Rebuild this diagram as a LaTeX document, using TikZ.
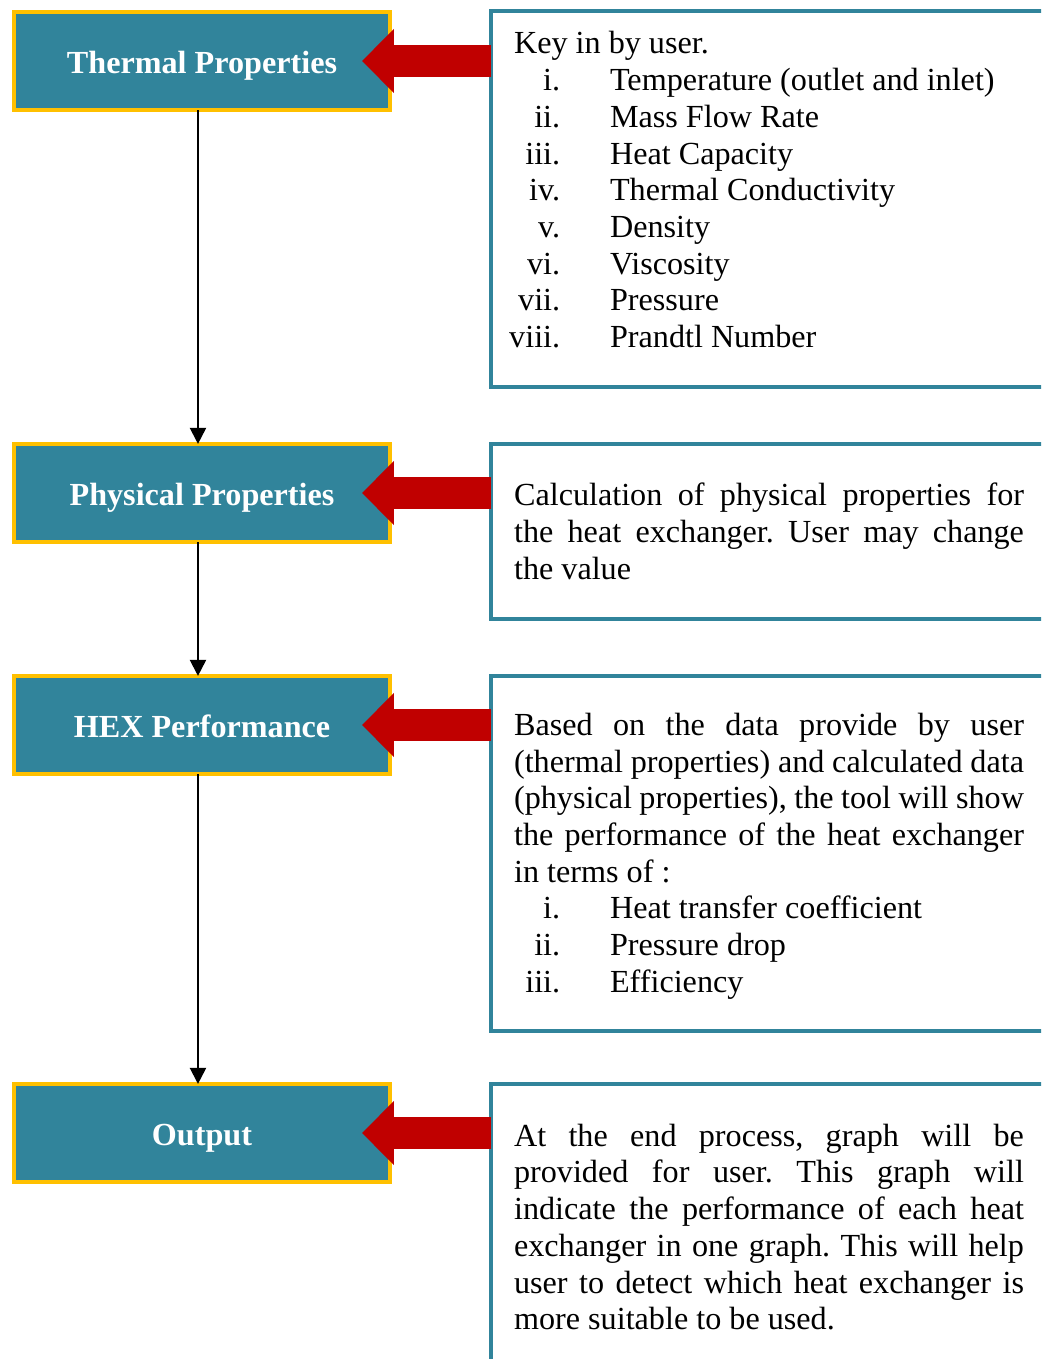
\documentclass[tikz,border=0pt]{standalone}
\usepackage{fontspec}
\setmainfont{Liberation Serif}
\usetikzlibrary{arrows,arrows.meta,positioning}
\definecolor{hexteal}{HTML}{31849B}
\definecolor{hexgold}{HTML}{FFC000}
\definecolor{hexred}{HTML}{C00000}
\tikzstyle{stage} = [rectangle, draw=hexgold, line width=1.5pt, fill=hexteal, minimum width=140.2pt, minimum height=36.6pt, text height=10.2pt, text depth=1pt, text=white, font=\fontsize{12}{13.7}\selectfont\bfseries, outer sep=0pt]
\tikzstyle{infobox} = [rectangle, draw=hexteal, line width=1.5pt, anchor=north west, text width=190.2pt, inner xsep=8.6pt, inner ysep=0pt, align=justify, outer sep=0pt]
\tikzstyle{flowarrow} = [line width=0.75pt, -{Triangle[length=6pt,width=6pt]}]
\tikzstyle{inarrow} = [draw=hexred, line width=11.9pt, -{Triangle[length=11.9pt,width=23.9pt,line width=0pt]}]
\newcommand{\itm}[2]{\makebox[17.2pt][r]{#1}\hspace{18.6pt}#2\par}
\newcommand{\padbelow}[1]{\par\nointerlineskip\vspace{#1}\hbox{}}
\setlength{\parindent}{0pt}
\frenchspacing

\begin{document}
\begin{tikzpicture}[x=0.373pt, y=-0.373pt, font=\fontsize{12}{13.7}\selectfont]
\useasboundingbox (0,0) rectangle (1041,1359);
\clip (0,0) rectangle (1041,1359);
\draw (202,61) node (th) [stage] {Thermal Properties};
\draw (202,493) node (ph) [stage] {Physical Properties};
\draw (202,725) node (hx) [stage] {HEX Performance};
\draw (202,1133) node (ou) [stage] {Output};
%
\draw (491,11) node (in1) [infobox, minimum height=140.1pt] {Key in by user.\par
\itm{i.}{Temperature (outlet and inlet)}
\itm{ii.}{Mass Flow Rate}
\itm{iii.}{Heat Capacity}
\itm{iv.}{Thermal Conductivity}
\itm{v.}{Density}
\itm{vi.}{Viscosity}
\itm{vii.}{Pressure}
\itm{viii.}{Prandtl Number}
\padbelow{6.7pt}};
\draw (491,444) node (in2) [infobox, minimum height=65.3pt] {Calculation of physical properties for\linebreak the heat exchanger. User may change\linebreak the value};
\draw (491,676) node (in3) [infobox, minimum height=132.4pt] {Based on the data provide by user\linebreak (thermal properties) and calculated data\linebreak (physical properties), the tool will show\linebreak the performance of the heat exchanger\linebreak in terms of :\par
\itm{i.}{Heat transfer coefficient}
\itm{ii.}{Pressure drop}
\itm{iii.}{Efficiency}
\padbelow{-2pt}};
\draw (491,1084) node (in4) [infobox, minimum height=106.7pt] {At the end process, graph will be\linebreak provided for user. This graph will\linebreak indicate the performance of each heat\linebreak exchanger in one graph. This will help\linebreak user to detect which heat exchanger is\linebreak more suitable to be used.};
%
\draw [flowarrow] ([xshift=-1.5pt]th.south) -- ([xshift=-1.5pt]ph.north);
\draw [flowarrow] ([xshift=-1.5pt]ph.south) -- ([xshift=-1.5pt]hx.north);
\draw [flowarrow] ([xshift=-1.5pt]hx.south) -- ([xshift=-1.5pt]ou.north);
%
\draw [inarrow] (in1.west |- th.center) -- ([xshift=-10.4pt]th.east);
\draw [inarrow] (in2.west |- ph.center) -- ([xshift=-10.4pt]ph.east);
\draw [inarrow] (in3.west |- hx.center) -- ([xshift=-10.4pt]hx.east);
\draw [inarrow] (in4.west |- ou.center) -- ([xshift=-10.4pt]ou.east);
\end{tikzpicture}
\end{document}
